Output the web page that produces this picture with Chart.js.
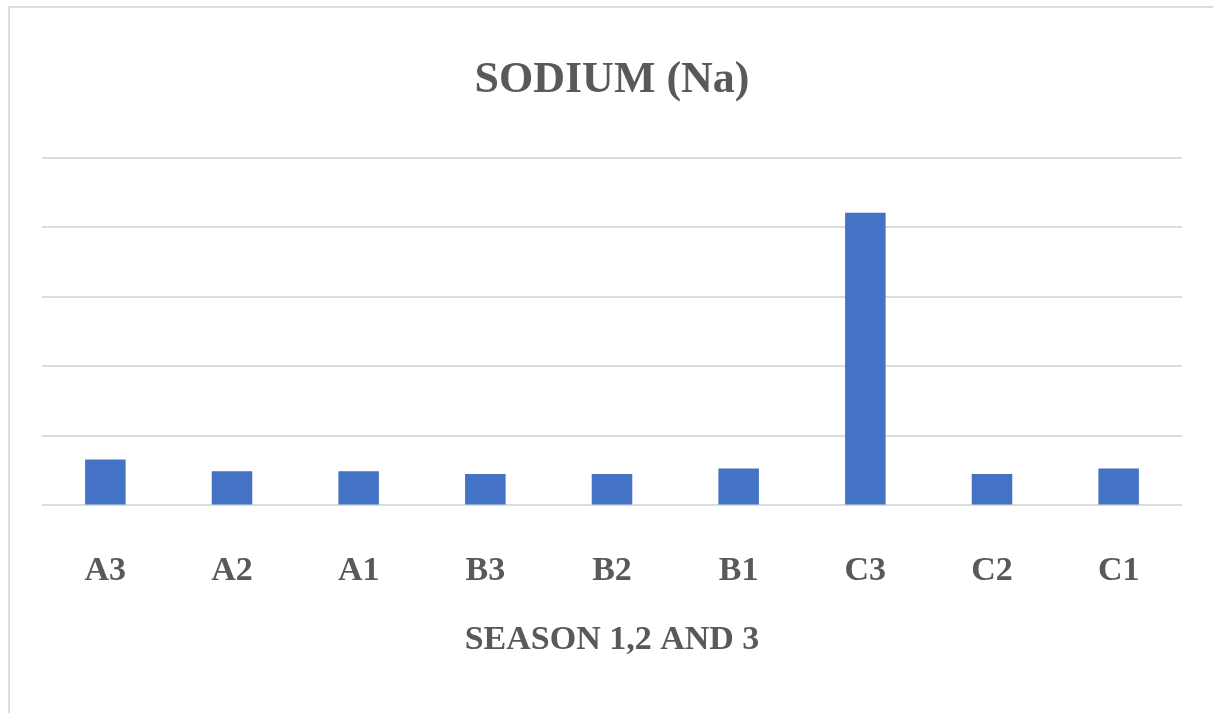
<!DOCTYPE html>
<html>
<head>
<meta charset="utf-8">
<script src="https://cdn.jsdelivr.net/npm/chart.js@4/dist/chart.umd.min.js"></script>
<style>
  body { margin: 0; background: #fff; }
  #wrap { position: absolute; left: 0; top: 0; width: 1213px; height: 713px; }
  #frame { position: absolute; left: 8px; top: 6px; right: 0; bottom: 0; border-top: 2px solid #dcdcdc; border-left: 2px solid #dcdcdc; }
  canvas { position: absolute; left: 0; top: 0; }
</style>
</head>
<body>
<div id="wrap">
  <div id="frame"></div>
  <canvas id="sodium-chart" width="1213" height="713"></canvas>
</div>
<script>
const categories = ['A3', 'A2', 'A1', 'B3', 'B2', 'B1', 'C3', 'C2', 'C1'];
const sodiumValues = [0.66, 0.49, 0.49, 0.45, 0.45, 0.53, 4.21, 0.45, 0.53];
const yTicks = [0, 1, 2, 3, 4, 5];

const TEXT_COLOR = '#595959';
const SERIF = "'Liberation Serif', 'Times New Roman', serif";

const config = {
  type: 'bar',
  data: {
    labels: categories,
    datasets: [{
      data: sodiumValues,
      backgroundColor: '#4472c4',
      borderWidth: 0,
      categoryPercentage: 1,
      barPercentage: 0.32
    }]
  },
  options: {
    responsive: false,
    animation: false,
    layout: {
      padding: { top: 30, left: 42, right: 31, bottom: 0 }
    },
    plugins: {
      legend: { display: false },
      tooltip: { enabled: false },
      title: {
        display: true,
        text: 'SODIUM (Na)',
        color: TEXT_COLOR,
        font: { family: SERIF, size: 44, weight: 'bold' },
        padding: { top: 24, bottom: 51 }
      }
    },
    scales: {
      x: {
        grid: { display: false, drawTicks: false },
        border: { display: false },
        ticks: {
          color: TEXT_COLOR,
          font: { family: SERIF, size: 34, weight: 'bold' },
          padding: 45
        },
        title: {
          display: true,
          text: 'SEASON 1,2 AND 3',
          color: TEXT_COLOR,
          font: { family: SERIF, size: 34, weight: 'bold' },
          padding: { top: -16, bottom: 52 }
        }
      },
      y: {
        min: yTicks[0],
        max: yTicks[yTicks.length - 1],
        afterBuildTicks(scale) {
          scale.ticks = yTicks.map(v => ({ value: v }));
        },
        ticks: { display: false },
        grid: { color: '#dcdcdc', lineWidth: 2, drawTicks: false },
        border: { display: false }
      }
    }
  }
};

new Chart(document.getElementById('sodium-chart'), config);
</script>
</body>
</html>
